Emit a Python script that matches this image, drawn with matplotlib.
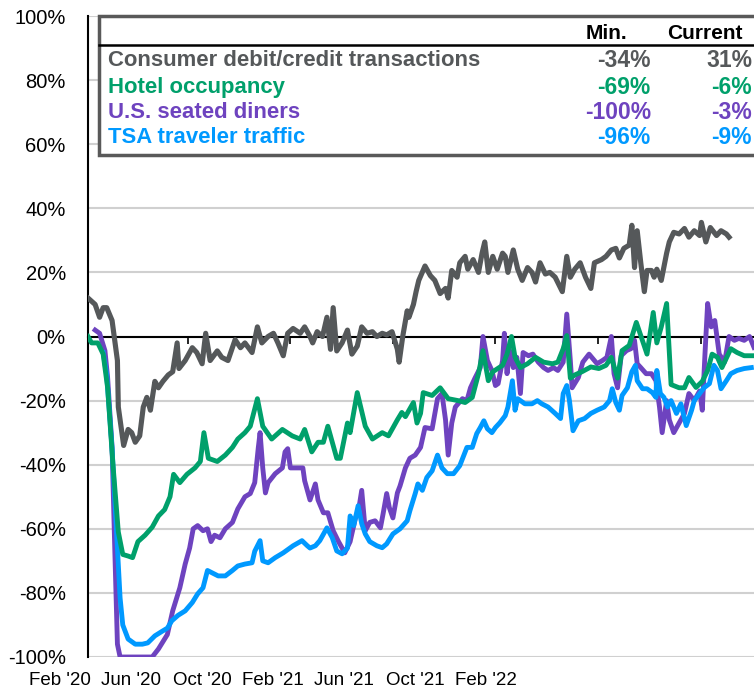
import matplotlib
matplotlib.use("Agg")
import matplotlib.pyplot as plt
import numpy as np
from matplotlib.patches import Rectangle

# x values are days since 15 Feb 2020, y values are % change
card_days = [0, 8, 13, 17, 21, 27, 33, 34, 38, 40, 45, 49, 53, 58, 62, 66, 70, 75, 79, 84,
             90, 95, 100, 102, 109, 117, 122, 128, 132, 137, 145, 150, 157, 165, 171, 176, 184,
             190, 195, 202, 208, 213, 219, 224, 230, 238, 243, 249, 252, 257, 263, 268, 272,
             275, 279, 285, 291, 296, 302, 307, 313, 319, 324, 330, 335, 341, 347, 349, 353,
             358, 360, 365, 368, 371, 378, 384, 389, 395, 401, 404, 408, 414, 417, 423, 426,
             432, 438, 442, 445, 449, 454, 459, 465, 468, 471, 477, 482, 487, 493, 498, 502,
             507, 513, 518, 524, 532, 537, 541, 546, 552, 558, 564, 568, 576, 581, 587, 592,
             596, 601, 607, 610, 613, 616, 620, 624, 627, 632, 635, 638, 643, 649, 652, 657,
             663, 669, 674, 680, 686, 688, 693, 698, 705, 710, 716, 719]
card_vals = [12, 10, 6, 9, 9, 5, -7.5, -22, -30, -34, -29, -30, -33, -31, -22, -19, -23, -14, -16, -14,
             -12, -11, -2, -10, -7.5, -3.5, -5, -8.5, 1, -7.5, -4.5, -6.5, -7.5, -1, -3.5, -2, -5,
             3, -2, 0, 1, -2, -6, 1, 2.5, 1, 3, 0, -2, 1.5, 0, 6, -4,
             9, -4.5, -2, 2, -5.5, -3, 3, 1, 1.5, 0, 1, 0.5, 1.5, -4, -8, 0,
             8, 6, 10, 14, 17.5, 22, 19, 17.5, 13.4, 15, 12, 20.6, 18.5, 23, 25, 21,
             24, 20, 26, 29.5, 20, 25, 21, 26, 25, 20, 27, 21, 17.5, 21.5, 20, 17,
             23, 19.5, 20, 18.5, 14, 25, 18.5, 21, 23, 18.5, 15, 23, 24, 25, 27, 27.5,
             24.5, 27.5, 28.5, 34.7, 21.5, 33, 23, 14, 20.6, 20.6, 18.5, 21, 17.5, 26, 29.5, 32.5,
             32, 33.7, 31, 33, 31.5, 35.6, 29.5, 34, 31.5, 33, 32, 31]

hotel_days = [0, 4, 11, 17, 22, 28, 34, 39, 45, 50, 56, 64, 72, 79, 86, 92, 96, 103, 111, 120,
              126, 130, 135, 145, 154, 162, 168, 176, 182, 190, 196, 206, 218, 229, 238, 243,
              251, 258, 264, 269, 279, 283, 291, 294, 302, 311, 319, 330, 337, 347, 352, 356,
              365, 369, 373, 376, 386, 395, 404, 415, 423, 431, 438, 443, 449, 454, 465, 470,
              475, 479, 485, 493, 502, 511, 521, 527, 533, 537, 541, 546, 554, 564, 573, 581,
              587, 594, 599, 607, 615, 620, 627, 634, 638, 643, 649, 654, 663, 669, 674, 682,
              689, 695, 700, 706, 711, 721, 728, 736, 747]
hotel_vals = [0, -2, -2, -5.5, -16, -40, -61, -68, -68.5, -69, -64, -62, -59.5, -56, -54, -50, -43, -45.6, -43, -41,
              -39, -30, -38, -39, -37, -34.6, -32, -30, -28, -19.4, -28, -32, -29, -31, -32, -29,
              -36, -33, -33, -28, -38, -38, -27, -30, -17.5, -28, -32, -30, -31, -26, -23.7, -25,
              -20.6, -27, -24, -17.5, -18.4, -16, -19.4, -20, -20.6, -19, -11.6, -4.4, -13.8, -11, -9, -5.5,
              0, -6.5, -9.7, -8.5, -6.5, -8, -8.5, -8, -3.8, 0.3, -13, -12, -11, -9.5, -10, -9,
              -6.5, -13, -4.4, -2.8, 4.4, 0.3, -5.5, 7.5, -2, 3, 10.3, -15, -16, -16, -12.8, -15.9,
              -14, -10.6, -5.5, -6.5, -9.7, -3.8, -5, -6, -6]

diners_days = [8, 13, 19, 22, 27, 30, 33, 36, 72, 79, 89, 95, 103, 109, 114, 118, 123, 129, 134, 138,
               142, 148, 154, 162, 168, 176, 182, 187, 191, 193, 196, 199, 202, 210, 218, 221, 224,
               227, 234, 241, 243, 249, 255, 258, 264, 269, 275, 281, 285, 288, 294, 300, 303, 307,
               311, 316, 322, 328, 331, 335, 338, 342, 347, 350, 356, 361, 367, 373, 378, 386, 392,
               397, 401, 404, 408, 412, 420, 425, 429, 434, 440, 443, 448, 453, 457, 460, 465, 467,
               470, 473, 477, 481, 485, 488, 494, 499, 505, 511, 516, 522, 527, 533, 537, 541, 543,
               550, 555, 562, 565, 571, 577, 582, 587, 590, 594, 598, 604, 609, 613, 616, 620, 626,
               632, 637, 641, 644, 649, 652, 657, 663, 669, 674, 680, 686, 689, 692, 695, 699, 703,
               708, 714, 719, 725, 730, 736, 742, 747]
diners_vals = [2, 1, -4.4, -12.8, -34.6, -66, -96, -100, -100, -97.5, -93, -85.6, -78.4, -71, -66, -60, -59, -60.6, -60, -64,
               -62, -62.8, -60, -58, -53.8, -50, -49, -45.6, -34.7, -30, -41, -48.8, -45.6, -42.8, -41, -36, -35,
               -41, -41, -41, -45, -51, -46, -51, -55, -55, -60.6, -64, -66, -67.5, -64, -56.6, -55, -48,
               -60.6, -58, -57.5, -59.7, -55.3, -49, -53.4, -56.6, -48.8, -46.6, -41, -38, -37, -34.6, -28.4, -28.8, -19.4,
               -17.8, -26, -37, -27, -22, -19.4, -20, -16, -13, -9.7, 0, -7.5, -10.6, -15.3, -14.7, -7.5, 1,
               -11.6, -4.4, -9.7, -6.5, -17.8, -5, -6, -5.5, -8, -9.7, -10.6, -9.7, -10.6, -8, 7, -7.5, -16,
               -12.8, -8, -5.5, -6.5, -8.5, -7.5, -6.5, 0, -11.6, -16, -6, -4.4, -3.8, -1.2, -8.5, -9.7, -11.6,
               -11.6, -13.8, -22, -30, -20, -26, -30, -27, -24, -17.8, -20, -17, -23, -5.5, 10.3, 3, 5,
               -5.5, -8, 0, -1.2, -0.6, -1.2, 0, -3.4]

tsa_days = [17, 21, 27, 33, 36, 39, 45, 53, 61, 67, 75, 83, 89, 94, 101, 109, 117, 123, 129, 134,
            139, 146, 154, 162, 168, 176, 184, 187, 193, 196, 202, 210, 219, 230, 240, 246, 249,
            255, 260, 268, 274, 279, 285, 291, 294, 298, 303, 307, 311, 316, 324, 330, 335, 342,
            350, 358, 361, 367, 370, 375, 380, 386, 392, 397, 403, 410, 417, 425, 431, 436, 440,
            444, 448, 453, 457, 462, 468, 471, 476, 479, 482, 490, 498, 504, 509, 516, 524, 530,
            533, 537, 540, 544, 550, 557, 564, 571, 579, 585, 588, 592, 596, 599, 605, 610, 614,
            616, 622, 627, 633, 637, 638, 642, 646, 650, 654, 660, 665, 671, 677, 680, 686, 691,
            697, 702, 706, 710, 716, 721, 728, 736, 744]
tsa_vals = [-5, -12, -35, -66, -81.6, -90, -94.4, -96, -96, -95.6, -93.4, -92, -91, -88.7, -87, -85.6, -83, -80.3, -78.4, -73,
            -73.7, -74.7, -74.7, -73, -71.6, -71, -70.6, -67, -63.7, -70, -70.6, -69, -67.5, -65.3, -63.7, -65.3, -66,
            -65.3, -63.7, -59.7, -62.8, -66.9, -67.8, -66, -56, -59, -52.8, -58.4, -61.6, -64, -65.3, -65.9, -64.7, -61.6,
            -60, -57.5, -54.4, -49, -46, -48, -44, -41.9, -37, -41, -42.8, -42.8, -40.3, -34.6, -34.6, -30.3, -28.4,
            -26.3, -28.8, -30, -28.4, -26.9, -24.7, -22, -13.8, -23, -19.4, -21, -21, -20, -21, -22, -24, -25.6,
            -17.8, -15.3, -20, -29.4, -26.3, -25.6, -24, -23, -22, -20, -16.3, -20.6, -23, -18.4, -16, -11, -9,
            -13.8, -16.3, -16.3, -17.5, -19, -10.6, -17.8, -19, -22, -20, -24, -21, -27.8, -23, -20, -17.8, -16,
            -14.7, -9, -10.6, -16.3, -13.8, -11.6, -10.6, -10, -9.7]

series_names = ["Consumer debit/credit transactions", "Hotel occupancy",
                "U.S. seated diners", "TSA traveler traffic"]
series_min = ["-34%", "-69%", "-100%", "-96%"]
series_current = ["31%", "-6%", "-3%", "-9%"]
colors = ["#55585a", "#00a06b", "#6e43bf", "#0099ff"]

x_labels = ["Feb '20", "Jun '20", "Oct '20", "Feb '21", "Jun '21", "Oct '21", "Feb '22"]
y_ticks = np.arange(-100, 101, 20)

plt.rcParams["font.family"] = ["Liberation Sans", "DejaVu Sans"]

fig = plt.figure(figsize=(7.54, 6.92), dpi=100)
ax = fig.add_axes([88 / 754, 1 - 657 / 692, 666 / 754, 641 / 692])

# draw order: diners under TSA under hotel under card
ax.plot(diners_days, diners_vals, color=colors[2], lw=3.5, zorder=3, solid_joinstyle="round")
ax.plot(tsa_days, tsa_vals, color=colors[3], lw=3.5, zorder=4, solid_joinstyle="round")
ax.plot(hotel_days, hotel_vals, color=colors[1], lw=3.5, zorder=5, solid_joinstyle="round")
ax.plot(card_days, card_vals, color=colors[0], lw=3.7, zorder=6, solid_joinstyle="round")

ax.set_xlim(0, 747)
ax.set_ylim(-100, 100)
ax.set_yticks(y_ticks)
ax.set_yticklabels([f"{v}%" for v in y_ticks], fontsize=14.5)
ax.tick_params(axis="y", length=0, pad=16)
ax.grid(axis="y", color="#d0d0d0", lw=1.5, zorder=1)
ax.set_axisbelow(True)

# zero line carries the small date ticks
ax.spines["bottom"].set_position(("data", 0))
ax.spines["bottom"].set_linewidth(1.5)
ax.spines["bottom"].set_zorder(2)
ax.set_xticks(np.arange(112, 747, 115))
ax.tick_params(axis="x", direction="out", length=5, width=1.2, labelbottom=False)
ax.spines["left"].set_linewidth(1.5)
ax.spines["top"].set_visible(False)
ax.spines["right"].set_visible(False)

for i, lab in enumerate(x_labels):
    ax.text(-0.042 + 0.1067 * i, -0.036, lab, transform=ax.transAxes, ha="center",
            va="center", fontsize=13.5, clip_on=False)

# table box in the upper part of the plot
box = Rectangle((0.0165, 0.783), 1.0, 0.217, transform=ax.transAxes, facecolor="white",
                edgecolor="#595959", lw=2.5, zorder=8, clip_on=False)
ax.add_patch(box)
ax.plot([0.0165, 1.0], [0.955, 0.955], transform=ax.transAxes, color="black", lw=1.8,
        zorder=9, clip_on=False)
ax.text(0.809, 0.973, "Min.", transform=ax.transAxes, ha="right", va="center",
        fontsize=15, fontweight="bold", zorder=10)
ax.text(0.983, 0.973, "Current", transform=ax.transAxes, ha="right", va="center",
        fontsize=15, fontweight="bold", zorder=10)
row_y = [0.931, 0.889, 0.849, 0.810]
for name, mn, cur, c, yy in zip(series_names, series_min, series_current, colors, row_y):
    ax.text(0.030, yy, name, transform=ax.transAxes, ha="left", va="center",
            fontsize=15.9, fontweight="bold", color=c, zorder=10)
    ax.text(0.845, yy, mn, transform=ax.transAxes, ha="right", va="center",
            fontsize=16.5, fontweight="bold", color=c, zorder=10)
    ax.text(0.997, yy, cur, transform=ax.transAxes, ha="right", va="center",
            fontsize=16.5, fontweight="bold", color=c, zorder=10)

fig.savefig("out.png", dpi=100)
